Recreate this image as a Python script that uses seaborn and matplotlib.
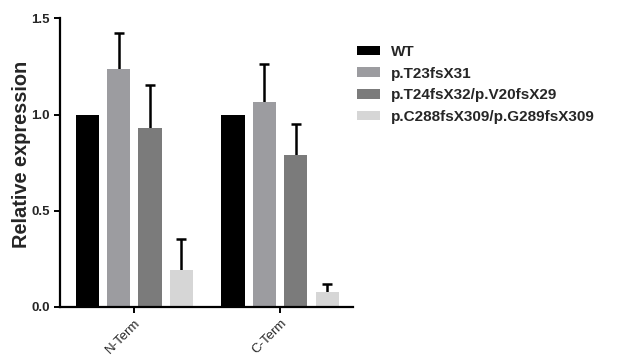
import matplotlib as mpl
import matplotlib.pyplot as plt
import seaborn as sns
import pandas as pd
import numpy as np

# values
regions = ['N-Term', 'C-Term']
genotypes = ['WT', 'p.T23fsX31', 'p.T24fsX32/p.V20fsX29', 'p.C288fsX309/p.G289fsX309']
nterm_mean = [1.0, 1.236, 0.932, 0.191]
nterm_err = [0.0, 0.187, 0.222, 0.160]
cterm_mean = [1.0, 1.066, 0.790, 0.075]
cterm_err = [0.0, 0.199, 0.162, 0.042]
colors = ['#000000', '#9c9ca0', '#7b7b7b', '#d6d6d6']

sns.set_style('ticks')
plt.rcParams['font.family'] = ['Liberation Sans', 'DejaVu Sans']

df = pd.DataFrame({
    'Region': np.repeat(regions, len(genotypes)),
    'Genotype': genotypes * len(regions),
    'Mean': nterm_mean + cterm_mean,
    'Err': nterm_err + cterm_err,
})

fig = plt.figure(figsize=(6.17, 3.64), dpi=100)
ax = fig.add_axes([0.0972, 0.1574, 0.4749, 0.7918])

palette = dict(zip(genotypes, colors))
sns.barplot(data=df, x='Region', y='Mean', hue='Genotype', order=regions,
            hue_order=genotypes, palette=palette, errorbar=None,
            width=0.86, gap=0.26, linewidth=0, saturation=1, ax=ax)

# upward-only error bars on top of each bar
for cont, g in zip(ax.containers, genotypes):
    sub = df[df['Genotype'] == g].set_index('Region').loc[regions]
    xs = np.array([p.get_x() + p.get_width() / 2 for p in cont.patches])
    errs = sub['Err'].values
    keep = errs > 0
    if not keep.any():
        continue
    eb = ax.errorbar(xs[keep], sub['Mean'].values[keep],
                     yerr=[np.zeros(keep.sum()), errs[keep]],
                     fmt='none', ecolor='black', elinewidth=1.8, capsize=3.6,
                     capthick=1.8, zorder=0.5)
    eb[1][0].set_visible(False)  # hide the lower cap

ax.set_ylim(0, 1.5)
ax.set_xlim(-0.51, 1.50)
ax.set_yticks([0.0, 0.5, 1.0, 1.5])
ax.set_yticklabels(['0.0', '0.5', '1.0', '1.5'], fontsize=9.5, fontweight='bold')
ax.set_xticks([0, 1])
ax.set_xticklabels(regions, fontsize=9.5, rotation=45, ha='right',
                   rotation_mode='anchor')
ax.set_xlabel('')
ax.set_ylabel('Relative expression', fontsize=14.4, fontweight='bold')
ax.yaxis.set_label_coords(-0.10, 0.53)
ax.tick_params(axis='both', width=1.4, length=4, color='black')
for s in ['left', 'bottom']:
    ax.spines[s].set_linewidth(1.6)
    ax.spines[s].set_color('black')
sns.despine(ax=ax)

handles, labels = ax.get_legend_handles_labels()
ax.legend(handles, labels, loc='upper left', bbox_to_anchor=(357 / 617, 1 - 45 / 364),
          bbox_transform=fig.transFigure, frameon=False, borderpad=0,
          borderaxespad=0, handlelength=1.5, handleheight=0.6,
          handletextpad=0.7, labelspacing=0.5,
          prop={'size': 11, 'weight': 'bold'})

fig.savefig('out.png', dpi=100)
